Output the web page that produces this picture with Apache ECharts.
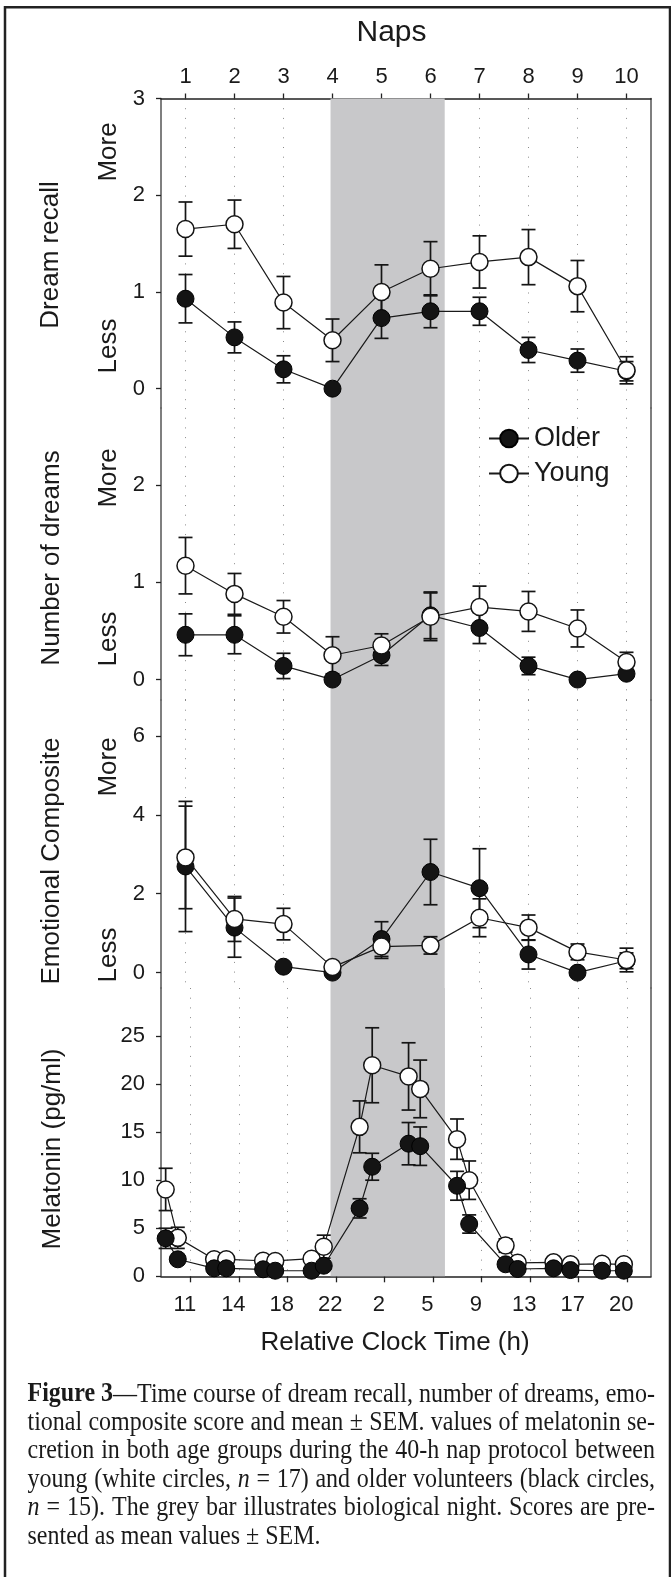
<!DOCTYPE html>
<html><head><meta charset="utf-8">
<script src="https://cdn.jsdelivr.net/npm/echarts@6/dist/echarts.min.js"></script>
<style>html,body{margin:0;padding:0;background:#fff}#c{width:671px;height:1577px}</style>
</head><body><div id="c"></div>
<script>
// ---------- data ----------
const napX = [1,2,3,4,5,6,7,8,9,10];
const napLabels = ['1','2','3','4','5','6','7','8','9','10'];
const clockLabels = ['11','14','18','22','2','5','9','13','17','20'];
const recallTicks = [0,1,2,3];
const dreamsTicks = [0,1,2];
const emoTicks = [0,2,4,6];
const melTicks = [0,5,10,15,20,25];

const recallOlder    = [0.93,0.53,0.20,0.00,0.73,0.80,0.80,0.40,0.29,0.18];
const recallOlderSem = [0.25,0.16,0.14,0.00,0.21,0.17,0.145,0.13,0.12,0.10];
const recallYoung    = [1.65,1.70,0.89,0.50,1.00,1.24,1.31,1.36,1.06,0.19];
const recallYoungSem = [0.28,0.25,0.27,0.22,0.28,0.28,0.27,0.285,0.265,0.14];

const dreamsOlder    = [0.46,0.46,0.14,0.00,0.25,0.66,0.53,0.14,0.00,0.06];
const dreamsOlderSem = [0.215,0.195,0.13,0.00,0.105,0.24,0.16,0.09,0.00,0.04];
const dreamsYoung    = [1.17,0.88,0.645,0.25,0.35,0.645,0.745,0.70,0.525,0.18];
const dreamsYoungSem = [0.29,0.21,0.167,0.19,0.12,0.245,0.215,0.205,0.19,0.10];

const emoOlder    = [2.69,1.14,0.15,0.00,0.85,2.55,2.14,0.46,0.00,0.30];
const emoOlderSem = [1.65,0.75,0.05,0.00,0.44,0.83,1.00,0.37,0.00,0.20];
const emoYoung    = [2.92,1.36,1.23,0.14,0.66,0.69,1.39,1.14,0.525,0.32];
const emoYoungSem = [1.30,0.57,0.40,0.00,0.30,0.22,0.48,0.32,0.20,0.30];

const melX = [0.49,0.74,1.49,1.74,2.50,2.75,3.50,3.75,4.49,4.75,5.50,5.74,6.50,6.75,7.50,7.75,8.49,8.84,9.49,9.94];
const melYoung    = [9.04,4.0,1.77,1.77,1.62,1.60,1.83,3.08,15.55,21.96,20.8,19.5,14.27,10.0,3.2,1.4,1.45,1.25,1.3,1.25];
const melYoungSem = [2.2,1.1,0.3,0.3,0.3,0.3,0.3,1.2,2.7,3.9,3.5,3.0,2.1,2.0,0.7,0.3,0.2,0.2,0.2,0.2];
const melOlder    = [3.95,1.77,0.83,0.83,0.73,0.58,0.58,1.1,7.07,11.4,13.8,13.54,9.42,5.44,1.25,0.76,0.83,0.65,0.58,0.58];
const melOlderSem = [1.05,0.3,0.2,0.2,0.2,0.2,0.2,0.3,1.0,1.4,2.2,2.0,1.5,0.95,0.3,0.2,0.2,0.2,0.2,0.2];

const nightBand = [3.96, 6.29];     // in nap units (upper panels)
const nightBandMel = [3.89, 6.25];  // in melatonin axis units

const panelTitles = ['Dream recall','Number of dreams','Emotional Composite','Melatonin (pg/ml)'];
const moreLess = ['More','Less'];
const seriesNames = ['Older','Young'];

// ---------- layout ----------
const FONT = 'Liberation Sans, Arial, sans-serif';
const INK = '#1a1a1a';
const grids = [
  {left:161, width:490, top:98.5, height:309.5},
  {left:161, width:490, top:408, height:292},
  {left:161, width:490, top:700, height:288},
  {left:161, width:490, top:988, height:288.3}
];
const yRanges = [[-0.2,3],[-0.21,2.79],[-0.39,6.91],[0,30]];
const yTicks = [recallTicks, dreamsTicks, emoTicks, melTicks];
const dotted = {show:true, lineStyle:{type:[1,8.7], color:'#8a8a8a', width:1}};

const xAxes = [];
for (let i = 0; i < 3; i++) {
  xAxes.push({
    type:'value', gridIndex:i, min:0.5, max:10.5,
    position: i === 0 ? 'top' : 'bottom',
    axisLine:{show: i === 0, onZero:false, lineStyle:{color:'#222', width:1.5}},
    axisTick:{show: i === 0, customValues: napX, length:5, lineStyle:{color:'#222', width:1.3}},
    axisLabel:{show: i === 0, customValues: napX, margin:11, fontSize:22, color:INK, fontFamily:FONT,
      formatter: v => napLabels[napX.indexOf(Math.round(v))]},
    splitLine: dotted
  });
}
xAxes.push({
  type:'value', gridIndex:3, min:0.394, max:10.5, position:'bottom',
  axisLine:{show:true, onZero:false, lineStyle:{color:'#222', width:1.5}},
  axisTick:{show:true, customValues: napX, length:6, lineStyle:{color:'#222', width:1.3}},
  axisLabel:{show:true, customValues: napX, margin:18, fontSize:22, color:INK, fontFamily:FONT,
    padding:[0,11,0,0], formatter: v => clockLabels[napX.indexOf(Math.round(v))]},
  splitLine: dotted
});

const yAxes = [];
for (let i = 0; i < 4; i++) {
  yAxes.push({
    type:'value', gridIndex:i, min:yRanges[i][0], max:yRanges[i][1], position:'left',
    axisLine:{show:true, onZero:false, lineStyle:{color:'#555', width:1.5}},
    axisTick:{show:true, customValues: yTicks[i], length:5, lineStyle:{color:'#222', width:1.3}},
    axisLabel:{show:true, customValues: yTicks[i], margin:16, fontSize:22, color:INK, fontFamily:FONT},
    splitLine:{show:false}
  });
  yAxes.push({
    type:'value', gridIndex:i, min:yRanges[i][0], max:yRanges[i][1], position:'right',
    axisLine:{show:true, onZero:false, lineStyle:{color:'#555', width:1.5}},
    axisTick:{show:false}, axisLabel:{show:false}, splitLine:{show:false}
  });
}

function renderErr(params, api) {
  const x = api.value(0), y = api.value(1), e = api.value(2);
  if (!(e > 0)) return null;
  const top = api.coord([x, y + e]);
  const bot = api.coord([x, y - e]);
  const hw = 7;
  const st = {stroke:'#151515', lineWidth:1.7};
  return {type:'group', children:[
    {type:'line', shape:{x1:top[0], y1:top[1], x2:bot[0], y2:bot[1]}, style:st},
    {type:'line', shape:{x1:top[0]-hw, y1:top[1], x2:top[0]+hw, y2:top[1]}, style:st},
    {type:'line', shape:{x1:bot[0]-hw, y1:bot[1], x2:bot[0]+hw, y2:bot[1]}, style:st}
  ]};
}
function errSeries(xs, ys, es, gi, z) {
  return {type:'custom', xAxisIndex:gi, yAxisIndex:gi*2, z:z, silent:true, clip:false,
    renderItem: renderErr, encode:{x:0, y:1},
    data: xs.map((x,i) => [x, ys[i], es[i]])};
}
function lineSeries(name, xs, ys, gi, z, filled) {
  return {type:'line', name:name, xAxisIndex:gi, yAxisIndex:gi*2, z:z,
    data: xs.map((x,i) => [x, ys[i]]),
    symbol:'circle', symbolSize:17, showSymbol:true, showAllSymbol:true, clip:false,
    lineStyle:{color:'#1a1a1a', width:1.2},
    itemStyle: filled ? {color:'#141414', borderColor:'#000', borderWidth:1}
                      : {color:'#ffffff', borderColor:'#141414', borderWidth:1.5},
    emphasis:{disabled:true}, silent:true};
}
function bandSeries(gi, band) {
  return {type:'line', name:'night'+gi, xAxisIndex:gi, yAxisIndex:gi*2, z:-1, data:[], silent:true,
    markArea:{silent:true, itemStyle:{color:'#c8c8ca'}, data:[[{xAxis:band[0]},{xAxis:band[1]}]]}};
}

const upper = [
  [recallOlder, recallOlderSem, recallYoung, recallYoungSem],
  [dreamsOlder, dreamsOlderSem, dreamsYoung, dreamsYoungSem],
  [emoOlder, emoOlderSem, emoYoung, emoYoungSem]
];
const series = [];
upper.forEach((d, gi) => {
  series.push(bandSeries(gi, nightBand));
  series.push(errSeries(napX, d[0], d[1], gi, 2));
  series.push(errSeries(napX, d[2], d[3], gi, 2));
  series.push(lineSeries(seriesNames[0], napX, d[0], gi, 3, true));
  series.push(lineSeries(seriesNames[1], napX, d[2], gi, 4, false));
});
series.push(bandSeries(3, nightBandMel));
series.push(errSeries(melX, melYoung, melYoungSem, 3, 2));
series.push(errSeries(melX, melOlder, melOlderSem, 3, 2));
series.push(lineSeries(seriesNames[1], melX, melYoung, 3, 3, false));
series.push(lineSeries(seriesNames[0], melX, melOlder, 3, 4, true));

// ---------- text graphics ----------
const graphics = [];
function txt(text, x, y, size, opts) {
  opts = opts || {};
  const st = {text:text, fill:INK, fontSize:size, fontFamily:opts.family || FONT,
    fontWeight:opts.weight || 'normal', fontStyle:opts.style || 'normal',
    textAlign:opts.align || 'center', align:opts.align || 'center',
    textVerticalAlign:'middle', verticalAlign:'middle'};
  const el = {type:'text', x:x, y:y, silent:true, z:50, style:st};
  if (opts.rot) el.rotation = opts.rot;
  graphics.push(el);
}
txt('Naps', 391.5, 32.5, 30);
txt('Relative Clock Time (h)', 395, 1342.5, 26);
const titlePos = [[51,255],[52,558],[52,861],[53,1149]];
panelTitles.forEach((t,i) => txt(t, titlePos[i][0], titlePos[i][1], 26, {rot:Math.PI/2}));
const mlPos = [[109,152],[109,346],[109,478],[109,639],[109,767],[109,955]];
mlPos.forEach((p,i) => txt(moreLess[i%2], p[0], p[1], 26, {rot:Math.PI/2}));

// caption
const captionLines = [
  [['Figure 3','bold'],['\u2014Time course of dream recall, number of dreams, emo-','normal']],
  [['tional composite score and mean \u00b1 SEM. values of melatonin se-','normal']],
  [['cretion in both age groups during the 40-h nap protocol between','normal']],
  [['young (white circles, ','normal'],['n','italic'],[' = 17) and older volunteers (black circles,','normal']],
  [['n','italic'],[' = 15). The grey bar illustrates biological night. Scores are pre-','normal']],
  [['sented as mean values \u00b1 SEM.','normal']]
];
const CAP_FONT = 'Liberation Serif';
const CAP_SIZE = 24;
const capLeft = 27.5, capRight = 655, capBase0 = 1402.7, capLead = 28.4;
const ctx = document.createElement('canvas').getContext('2d');
function fontFor(s) {
  const w = s === 'bold' ? 'bold ' : '';
  const it = s === 'italic' ? 'italic ' : '';
  return it + w + CAP_SIZE + 'px "' + CAP_FONT + '"';
}
function measure(t, s) { ctx.font = fontFor(s); return ctx.measureText(t).width; }
captionLines.forEach((runs, li) => {
  const words = [];
  let cur = [];
  runs.forEach(([text, s]) => {
    const parts = text.split(' ');
    parts.forEach((p, j) => {
      if (j > 0) { if (cur.length) words.push(cur); cur = []; }
      if (p) cur.push([p, s]);
    });
  });
  if (cur.length) words.push(cur);
  const widths = words.map(w => w.reduce((a, r) => a + measure(r[0], r[1]), 0));
  const total = widths.reduce((a, b) => a + b, 0);
  const last = li === captionLines.length - 1;
  const gap = last ? measure(' ', 'normal') : (capRight - capLeft - total) / (words.length - 1);
  const yMid = capBase0 + li * capLead - 0.3375 * CAP_SIZE;
  let x = capLeft;
  words.forEach((w, wi) => {
    let rx = x;
    w.forEach(([t, s]) => {
      graphics.push({type:'text', x:rx, y:yMid, scaleY:1.1, silent:true, z:50, style:{
        text:t, fill:'#1a1a1a', fontSize:CAP_SIZE, fontFamily:CAP_FONT,
        fontWeight: s === 'bold' ? 'bold' : 'normal', fontStyle: s === 'italic' ? 'italic' : 'normal',
        textAlign:'left', align:'left', textVerticalAlign:'middle', verticalAlign:'middle'}});
      rx += measure(t, s);
    });
    x += widths[wi] + gap;
  });
});

// frame
graphics.push({type:'rect', silent:true, z:60, shape:{x:5, y:7.2, width:665, height:1620},
  style:{fill:'none', stroke:'#222', lineWidth:2.5}});

const chart = echarts.init(document.getElementById('c'), null, {renderer:'canvas'});
chart.setOption({
  animation:false,
  backgroundColor:'#ffffff',
  textStyle:{fontFamily:FONT},
  grid: grids,
  xAxis: xAxes,
  yAxis: yAxes,
  legend:{data:seriesNames, orient:'vertical', left:483, top:420, itemWidth:40, itemHeight:22, itemGap:8,
    textStyle:{fontSize:27, color:INK, fontFamily:FONT, lineHeight:22}, selectedMode:false},
  series: series,
  graphic: graphics
});
</script></body></html>
